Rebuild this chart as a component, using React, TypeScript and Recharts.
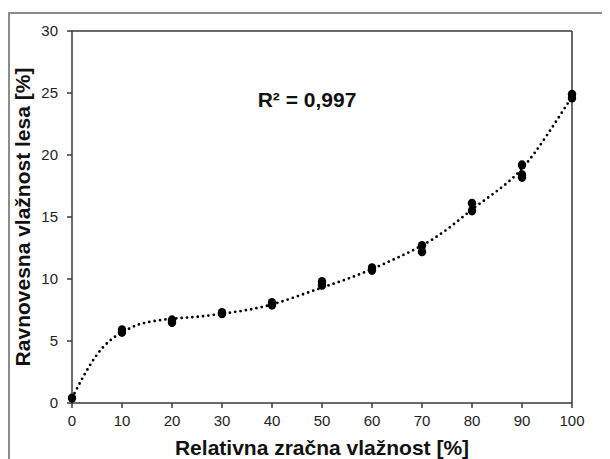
import { ComposedChart, Line, Scatter, XAxis, YAxis, ReferenceLine, Label } from 'recharts'

// measured points: relative air humidity [%] vs equilibrium wood moisture [%]
const humidity = [0, 10, 10, 20, 20, 30, 30, 40, 40, 50, 50, 60, 60, 70, 70, 80, 80, 90, 90, 90, 100, 100]
const moisture = [0.4, 5.7, 5.9, 6.5, 6.7, 7.2, 7.3, 7.9, 8.1, 9.5, 9.8, 10.7, 10.9, 12.2, 12.7, 15.5, 16.1, 18.2, 18.4, 19.2, 24.6, 24.9]

// trend line
const trendX = [0, 2.5, 5, 7.5, 10, 12.5, 15, 20, 25, 30, 35, 40, 45, 50, 55, 60, 65, 70, 75, 80, 85, 90, 95, 100]
const trendY = [0.4, 2.3, 3.9, 5.0, 5.7, 6.2, 6.5, 6.8, 6.95, 7.2, 7.5, 7.95, 8.6, 9.3, 10.0, 10.8, 11.7, 12.7, 14.0, 15.6, 17.1, 18.9, 21.6, 24.7]

const xTicks = [0, 10, 20, 30, 40, 50, 60, 70, 80, 90, 100]
const yTicks = [0, 5, 10, 15, 20, 25, 30]

const points = humidity.map((x, i) => ({ x, y: moisture[i] }))
const trend = trendX.map((x, i) => ({ x, y: trendY[i] }))

const FONT = '"Liberation Sans", Arial, sans-serif'
const AXIS = '#3a3a3a'
const tickStyle = { fontSize: 15, fill: '#222', fontFamily: FONT }

const Dot = (props: any) => <ellipse cx={props.cx} cy={props.cy} rx={4.2} ry={4.6} fill="#000" />

export default function App() {
  return (
    <div style={{ position: 'relative', width: 602, height: 451 }}>
      <div
        style={{
          position: 'absolute',
          left: 0,
          top: 4,
          width: 602,
          height: 447,
          borderLeft: '2px solid #8c8c8c',
          borderTop: '2px solid #8c8c8c',
          boxSizing: 'border-box',
        }}
      />
      <ComposedChart
        width={602}
        height={451}
        margin={{ top: 23, right: 38, bottom: 26, left: 24 }}
        style={{ position: 'absolute', left: 0, top: 0 }}
      >
        <XAxis
          type="number"
          dataKey="x"
          domain={[0, 100]}
          ticks={xTicks}
          interval={0}
          allowDuplicatedCategory={false}
          stroke={AXIS}
          strokeWidth={1.5}
          tickSize={5}
          tickMargin={7}
          tick={tickStyle}
          height={30}
        >
          <Label
            content={(p: any) => (
              <text
                x={p.viewBox.x + p.viewBox.width / 2}
                y={p.viewBox.y + 52}
                textAnchor="middle"
                fontFamily={FONT}
                fontWeight="bold"
                fontSize={21}
                fill="#111"
              >
                Relativna zračna vlažnost [%]
              </text>
            )}
          />
        </XAxis>
        <YAxis
          type="number"
          domain={[0, 30]}
          ticks={yTicks}
          interval={0}
          stroke={AXIS}
          strokeWidth={1.5}
          tickSize={5}
          tickMargin={9}
          tick={tickStyle}
          width={40}
        >
          <Label
            content={(p: any) => {
              const cx = p.viewBox.x - 10
              const cy = p.viewBox.y + p.viewBox.height / 2
              return (
                <text
                  x={cx}
                  y={cy}
                  transform={`rotate(-90 ${cx} ${cy})`}
                  textAnchor="middle"
                  dominantBaseline="central"
                  fontFamily={FONT}
                  fontWeight="bold"
                  fontSize={21}
                  fill="#111"
                >
                  Ravnovesna vlažnost lesa [%]
                </text>
              )
            }}
          />
        </YAxis>
        <ReferenceLine y={30} stroke={AXIS} strokeWidth={1.5} />
        <ReferenceLine x={100} stroke={AXIS} strokeWidth={1.5} />
        <Line
          data={trend}
          dataKey="y"
          type="natural"
          stroke="#000"
          strokeWidth={2.8}
          strokeDasharray="0 5.4"
          strokeLinecap="round"
          dot={false}
          activeDot={false}
          isAnimationActive={false}
        />
        <Scatter data={points} dataKey="y" shape={<Dot />} isAnimationActive={false} />
      </ComposedChart>
      <svg style={{ position: 'absolute', left: 0, top: 0, pointerEvents: 'none' }} width={602} height={451}>
        <text x={299} y={99} textAnchor="middle" fontFamily={FONT} fontWeight="bold" fontSize={21} fill="#111">
          R² = 0,997
        </text>
      </svg>
    </div>
  )
}
